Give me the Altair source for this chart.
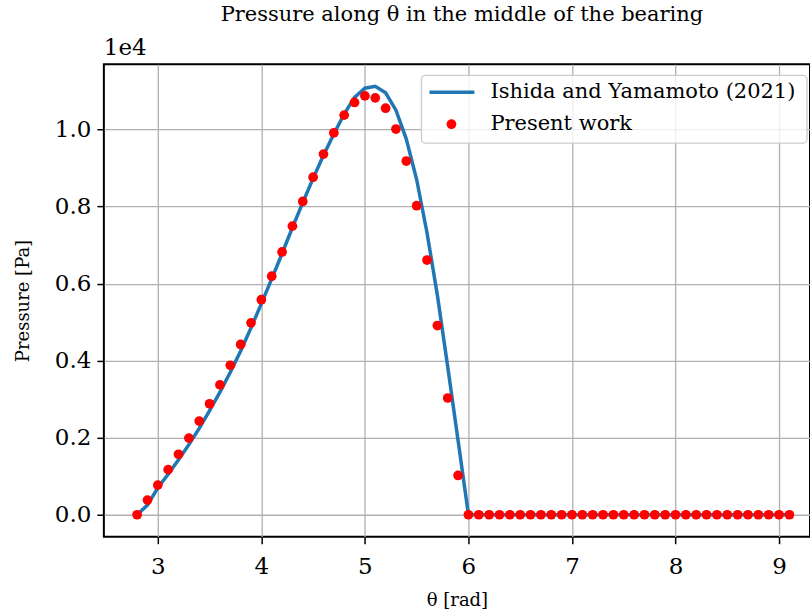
import altair as alt
import pandas as pd

FONT = "DejaVu Serif"
BLUE = "#1f77b4"
RED = "#ff0000"

# Angular positions [rad]
theta = [
    2.8, 2.9, 3.0, 3.1, 3.2, 3.3, 3.4, 3.5, 3.6, 3.7, 3.8, 3.9,
    4.0, 4.1, 4.2, 4.3, 4.4, 4.5, 4.6, 4.7, 4.8, 4.9,
    5.0, 5.1, 5.2, 5.3, 5.4, 5.5, 5.6, 5.7, 5.8, 5.9,
    6.0, 6.1, 6.2, 6.3, 6.4, 6.5, 6.6, 6.7, 6.8, 6.9,
    7.0, 7.1, 7.2, 7.3, 7.4, 7.5, 7.6, 7.7, 7.8, 7.9,
    8.0, 8.1, 8.2, 8.3, 8.4, 8.5, 8.6, 8.7, 8.8, 8.9,
    9.0, 9.1,
]

# Reference solution (Ishida and Yamamoto, 2021) [Pa]
p_reference = [
    0, 250, 700, 1050, 1430, 1820, 2240, 2700, 3180, 3700, 4250, 4850,
    5480, 6120, 6780, 7450, 8100, 8730, 9330, 9880, 10400, 10830,
    11070, 11120, 10950, 10500, 9750, 8700, 7320, 5700, 3840, 1930,
    0, 0, 0, 0, 0, 0, 0, 0, 0, 0,
    0, 0, 0, 0, 0, 0, 0, 0, 0, 0,
    0, 0, 0, 0, 0, 0, 0, 0, 0, 0,
    0, 0,
]

# Present solver [Pa]
p_present = [
    0, 380, 770, 1170, 1570, 1990, 2430, 2880, 3370, 3880, 4420, 4980,
    5580, 6190, 6820, 7490, 8130, 8760, 9360, 9910, 10370, 10700,
    10870, 10820, 10550, 10010, 9180, 8020, 6610, 4910, 3030, 1020,
    0, 0, 0, 0, 0, 0, 0, 0, 0, 0,
    0, 0, 0, 0, 0, 0, 0, 0, 0, 0,
    0, 0, 0, 0, 0, 0, 0, 0, 0, 0,
    0, 0,
]

series_names = ["Ishida and Yamamoto (2021)", "Present work"]
x_ticks = [3, 4, 5, 6, 7, 8, 9]
y_ticks = [0, 2000, 4000, 6000, 8000, 10000]

df_ref = pd.DataFrame({"theta": theta, "p": p_reference})
df_pres = pd.DataFrame({"theta": theta, "p": p_present})

x_scale = alt.Scale(domain=[2.479, 9.299], nice=False, zero=False)
y_scale = alt.Scale(domain=[-570, 11690], nice=False, zero=False)

common = dict(
    grid=True, gridColor="#b0b0b0", gridWidth=1.3,
    domain=False,
    ticks=True, tickSize=7, tickWidth=1.5, tickColor="black",
    labelFont=FONT, labelFontSize=23, labelColor="black",
    titleFont=FONT, titleFontSize=18, titleFontWeight="normal", titleColor="black",
)
x_axis = alt.Axis(title="θ [rad]", values=x_ticks, format="d",
                  labelPadding=12, titlePadding=13, **common)
y_axis = alt.Axis(title="Pressure [Pa]", values=y_ticks,
                  labelExpr="format(datum.value / 10000, '.1f')",
                  labelPadding=6, titlePadding=22, **common)

line = alt.Chart(df_ref).mark_line(strokeWidth=3.5, color=BLUE, clip=True).encode(
    x=alt.X("theta:Q", scale=x_scale, axis=x_axis),
    y=alt.Y("p:Q", scale=y_scale, axis=y_axis),
)

points = alt.Chart(df_pres).mark_circle(size=95, opacity=1, color=RED, clip=True).encode(
    x=alt.X("theta:Q", scale=x_scale),
    y=alt.Y("p:Q", scale=y_scale),
)

# Scale multiplier shown above the y axis
multiplier = alt.Chart(pd.DataFrame({"t": ["1e4"]})).mark_text(
    align="left", baseline="alphabetic", font=FONT, fontSize=23, color="black"
).encode(x=alt.value(0), y=alt.value(-9), text="t:N")

# Legend box in the upper right corner of the axes
one = pd.DataFrame({"k": [0]})
legend_box = alt.Chart(one).mark_rect(
    fill="white", fillOpacity=0.8, stroke="#cccccc", strokeWidth=1.3, cornerRadius=4
).encode(x=alt.value(318), x2=alt.value(704), y=alt.value(11), y2=alt.value(79))

legend_line = alt.Chart(one).mark_rule(color=BLUE, strokeWidth=3.5).encode(
    x=alt.value(326), x2=alt.value(371), y=alt.value(28)
)
legend_dot = alt.Chart(one).mark_circle(size=95, opacity=1, color=RED).encode(
    x=alt.value(348), y=alt.value(60)
)


def legend_label(text, y):
    return alt.Chart(pd.DataFrame({"label": [text]})).mark_text(
        align="left", baseline="middle", font=FONT, fontSize=21, color="black"
    ).encode(x=alt.value(387), y=alt.value(y), text="label:N")


chart = (
    alt.layer(
        line, points, multiplier, legend_box, legend_line, legend_dot,
        legend_label(series_names[0], 28), legend_label(series_names[1], 60),
    )
    .properties(
        width=707, height=473,
        background="white",
        title=alt.TitleParams(
            "Pressure along θ in the middle of the bearing",
            font=FONT, fontSize=21, fontWeight="normal", color="black",
            anchor="middle", dx=5, offset=12,
        ),
        padding={"left": 104, "top": 64, "right": 0, "bottom": 79},
        autosize="none",
    )
    .configure_view(stroke="black", strokeWidth=2)
)

chart.save("out.html", embed_options={"renderer": "svg", "actions": False})
